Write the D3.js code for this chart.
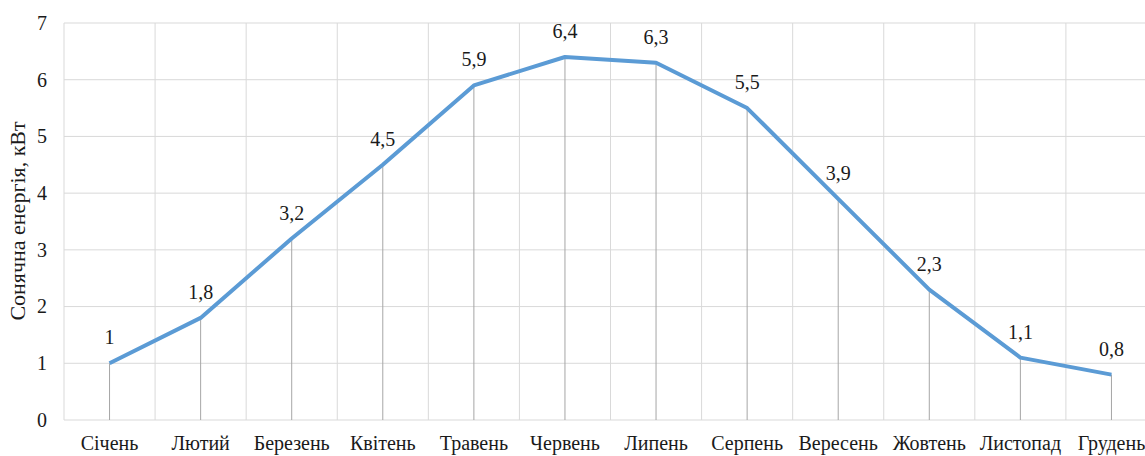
<!DOCTYPE html>
<html>
<head>
<meta charset="utf-8">
<script src="https://cdn.jsdelivr.net/npm/d3@7"></script>
<style>
  html, body { margin: 0; padding: 0; background: #fff; overflow: hidden; }
  svg { display: block; }
</style>
</head>
<body>
<svg id="chart" width="1145" height="456"></svg>
<script>
// Monthly solar energy output
const months = ["Січень", "Лютий", "Березень", "Квітень", "Травень", "Червень",
                "Липень", "Серпень", "Вересень", "Жовтень", "Листопад", "Грудень"];
const energy = [1, 1.8, 3.2, 4.5, 5.9, 6.4, 6.3, 5.5, 3.9, 2.3, 1.1, 0.8];
const yTicks = [0, 1, 2, 3, 4, 5, 6, 7];
const yTitle = "Сонячна енергія, кВт";

const FONT = "Liberation Serif";
const TEXT = "#1a1a1a";

const svg = d3.select("#chart");
const plot = { left: 64, right: 1157, top: 23, bottom: 420 };

const x = d3.scaleBand().domain(months).range([plot.left, plot.right]).padding(0);
const y = d3.scaleLinear().domain([0, 7]).range([plot.bottom, plot.top]);
const cx = m => x(m) + x.bandwidth() / 2;

const fmt = v => String(v).replace(".", ",");

// horizontal gridlines
svg.append("g").selectAll("line").data(yTicks).join("line")
  .attr("x1", plot.left).attr("x2", plot.right)
  .attr("y1", d => y(d)).attr("y2", d => y(d))
  .attr("stroke", "#d9d9d9").attr("stroke-width", 1);

// vertical gridlines at category boundaries
const bounds = months.map(m => x(m)).concat([plot.right]);
svg.append("g").selectAll("line").data(bounds).join("line")
  .attr("x1", d => d).attr("x2", d => d)
  .attr("y1", plot.top).attr("y2", plot.bottom)
  .attr("stroke", "#d9d9d9").attr("stroke-width", 1);

// drop lines from each point to the axis
svg.append("g").selectAll("line").data(months).join("line")
  .attr("x1", d => cx(d)).attr("x2", d => cx(d))
  .attr("y1", (d, i) => y(energy[i])).attr("y2", plot.bottom)
  .attr("stroke", "#a6a6a6").attr("stroke-width", 1);

// y axis tick labels
const yAxis = d3.axisLeft(y).tickValues(yTicks).tickSize(0).tickPadding(0)
  .tickFormat(d => d);
svg.append("g").attr("transform", `translate(47,0)`).call(yAxis)
  .attr("font-family", FONT).attr("font-size", 20)
  .call(g => g.select(".domain").remove())
  .call(g => g.selectAll("text")
    .style("font-family", FONT).style("font-size", "20px").attr("fill", TEXT));

// x axis category labels
const xAxis = d3.axisBottom(x).tickSize(0).tickPadding(0);
svg.append("g").attr("transform", `translate(0,${plot.bottom + 16})`).call(xAxis)
  .attr("font-family", FONT).attr("font-size", 20)
  .call(g => g.select(".domain").remove())
  .call(g => g.selectAll("text")
    .style("font-family", FONT).style("font-size", "20px").attr("fill", TEXT));

// y axis title
svg.append("text")
  .attr("transform", `translate(25,221) rotate(-90)`)
  .attr("text-anchor", "middle")
  .attr("font-family", FONT)
  .style("font-family", FONT).style("font-size", "22px").attr("fill", TEXT)
  .text(yTitle);

// series line
const line = d3.line().x((d, i) => cx(months[i])).y(d => y(d));
svg.append("path").datum(energy)
  .attr("d", line)
  .attr("fill", "none")
  .attr("stroke", "#5b9bd5")
  .attr("stroke-width", 4)
  .attr("stroke-linejoin", "round");

// data labels
svg.append("g").selectAll("text").data(energy).join("text")
  .attr("x", (d, i) => cx(months[i]))
  .attr("y", d => y(d) - 19)
  .attr("text-anchor", "middle")
  .attr("font-family", FONT)
  .style("font-family", FONT).style("font-size", "20px").attr("fill", TEXT)
  .text(d => fmt(d));
</script>
</body>
</html>
